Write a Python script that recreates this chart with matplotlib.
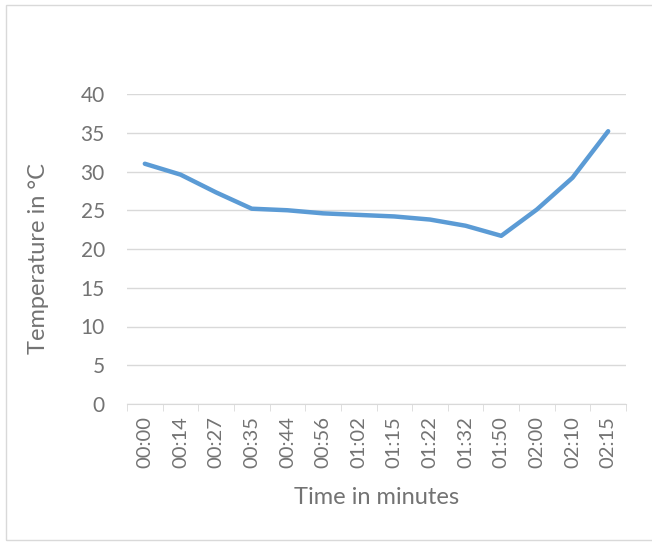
import numpy as np
import matplotlib.pyplot as plt
from matplotlib.patches import Rectangle

plt.rcParams['font.family'] = ['Lato', 'DejaVu Sans']

times = ["00:00", "00:14", "00:27", "00:35", "00:44", "00:56", "01:02",
         "01:15", "01:22", "01:32", "01:50", "02:00", "02:10", "02:15"]
temps = [31.0, 29.6, 27.3, 25.2, 25.0, 24.6, 24.4,
         24.2, 23.8, 23.0, 21.7, 25.1, 29.2, 35.2]
yticks = [0, 5, 10, 15, 20, 25, 30, 35, 40]

grey = "#737373"

fig = plt.figure(figsize=(6.52, 5.45), dpi=100)
# chart border
fig.patches.append(Rectangle((6/652, 5/545), 660/652, 535/545,
                             transform=fig.transFigure, fill=False,
                             edgecolor="#d9d9d9", linewidth=1.0))

ax = fig.add_axes([127/652, 1 - 404/545, 499/652, 310/545])
x = np.arange(len(times))
ax.plot(x, temps, color="#5b9bd5", linewidth=3.2, solid_joinstyle="round",
        solid_capstyle="round")

ax.set_xlim(-0.5, len(times) - 0.5)
ax.set_ylim(0, 40)
ax.set_yticks(yticks)
ax.set_xticks(x)
ax.set_xticklabels(times, rotation=90)
ax.grid(axis="y", color="#d9d9d9", linewidth=1.0)
ax.set_axisbelow(True)

for s in ["top", "right", "left"]:
    ax.spines[s].set_visible(False)
ax.spines["bottom"].set_color("#d9d9d9")

# small separators between categories
ax.set_xticks(np.arange(len(times) + 1) - 0.5, minor=True)
ax.tick_params(axis="x", which="minor", length=5, color="#d9d9d9")
ax.tick_params(axis="x", which="major", length=0, pad=9, labelsize=14.5,
               labelcolor=grey)
ax.tick_params(axis="y", length=0, pad=16, labelsize=15, labelcolor=grey)

ax.set_xlabel("Time in minutes", fontsize=17, color=grey, labelpad=13)
ax.set_ylabel("Temperature in °C", fontsize=17, color=grey)
ax.yaxis.set_label_coords(-0.156, 0.47)

fig.savefig("out.png", dpi=100)
